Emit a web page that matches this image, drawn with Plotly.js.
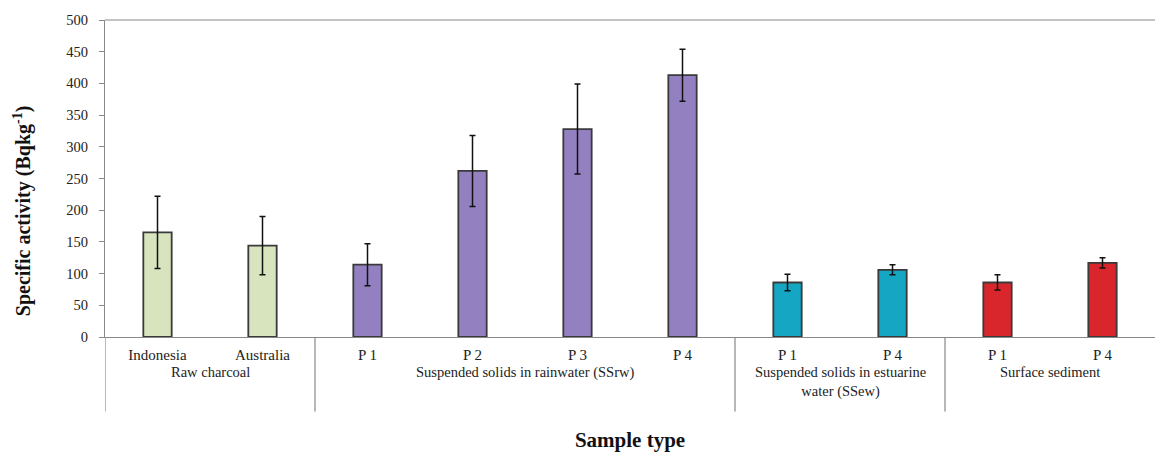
<!DOCTYPE html>
<html>
<head>
<meta charset="utf-8">
<script src="https://cdn.plot.ly/plotly-3.0.1.min.js"></script>
<style>html,body{margin:0;padding:0;background:#fff;}#chart{width:1157px;height:452px;}</style>
</head>
<body>
<div id="chart"></div>
<script>
const sampleLabels = ["Indonesia", "Australia", "P 1", "P 2", "P 3", "P 4", "P 1", "P 4", "P 1", "P 4"];
const groupNames = ["Raw charcoal", "Suspended solids in rainwater (SSrw)", "Suspended solids in estuarine<br>water (SSew)", "Surface sediment"];
const groupSizes = [2, 4, 2, 2];
const activity = [165, 144, 114, 262, 328, 413, 86, 106, 86, 117];
const activityErr = [57, 46, 33, 56, 71, 41, 13, 8, 12, 8];
const groupColors = ["#d7e4bd", "#9380c0", "#14a6c2", "#d8262c"];
const yTitle = "<b>Specific activity (Bqkg<sup>-1</sup>)</b>";
const xTitle = "<b>Sample type</b>";

const xs = sampleLabels.map((_, i) => i);
const colors = [];
groupSizes.forEach((n, g) => { for (let k = 0; k < n; k++) colors.push(groupColors[g]); });

const FONT = "Liberation Serif, Times New Roman, serif";

const trace = {
  type: "bar",
  x: xs,
  y: activity,
  width: 0.27,
  marker: {color: colors, line: {color: "#3a3a3a", width: 1.8}},
  error_y: {type: "data", array: activityErr, visible: true, color: "#111111", thickness: 1.5, width: 3},
  hoverinfo: "y"
};

const shapes = [];
const annotations = [];
let start = 0;
const sepBottom = -0.235;
shapes.push({type: "line", xref: "x", yref: "paper", x0: -0.5, x1: -0.5, y0: 0, y1: sepBottom, line: {color: "#888", width: 1.2}});
groupSizes.forEach((n, g) => {
  const end = start + n;
  annotations.push({
    xref: "x", yref: "paper", x: (start + end - 1) / 2, y: -0.078, yanchor: "top",
    text: groupNames[g], showarrow: false,
    font: {family: FONT, size: 14.5, color: "#222"}
  });
  if (g < groupSizes.length - 1) {
    shapes.push({type: "line", xref: "x", yref: "paper", x0: end - 0.5, x1: end - 0.5, y0: 0, y1: sepBottom, line: {color: "#888", width: 1.2}});
  }
  start = end;
});
// y-axis title placed like the reference (slightly below plot centre)
annotations.push({
  xref: "paper", yref: "paper", x: -0.079, y: 0.397, xanchor: "center", yanchor: "middle",
  textangle: -90, text: yTitle, showarrow: false,
  font: {family: FONT, size: 20, color: "#111"}
});
// top border of plot area
shapes.push({type: "line", xref: "paper", yref: "paper", x0: 0, x1: 1, y0: 1, y1: 1, line: {color: "#888", width: 1.2}});

const layout = {
  width: 1157, height: 452,
  margin: {l: 105, r: 2, t: 20, b: 115},
  paper_bgcolor: "#fff", plot_bgcolor: "#fff",
  showlegend: false,
  font: {family: FONT, color: "#222"},
  xaxis: {
    range: [-0.5, 9.5],
    tickmode: "array", tickvals: xs, ticktext: sampleLabels,
    ticks: "", showgrid: false, zeroline: false,
    showline: true, linecolor: "#888", linewidth: 1.2,
    tickfont: {size: 15, color: "#222"},
    ticklabelstandoff: 4,
    title: {text: xTitle, font: {size: 21, color: "#111"}, standoff: 74}
  },
  yaxis: {
    range: [0, 500], tickmode: "linear", tick0: 0, dtick: 50,
    ticks: "outside", ticklen: 5, tickcolor: "#888", tickwidth: 1,
    ticklabelstandoff: 8,
    showgrid: false, zeroline: false,
    showline: true, linecolor: "#888", linewidth: 1.2,
    tickfont: {size: 14.5, color: "#222"}
  },
  shapes: shapes,
  annotations: annotations
};

Plotly.newPlot("chart", [trace], layout, {displayModeBar: false, staticPlot: true});
</script>
</body>
</html>
